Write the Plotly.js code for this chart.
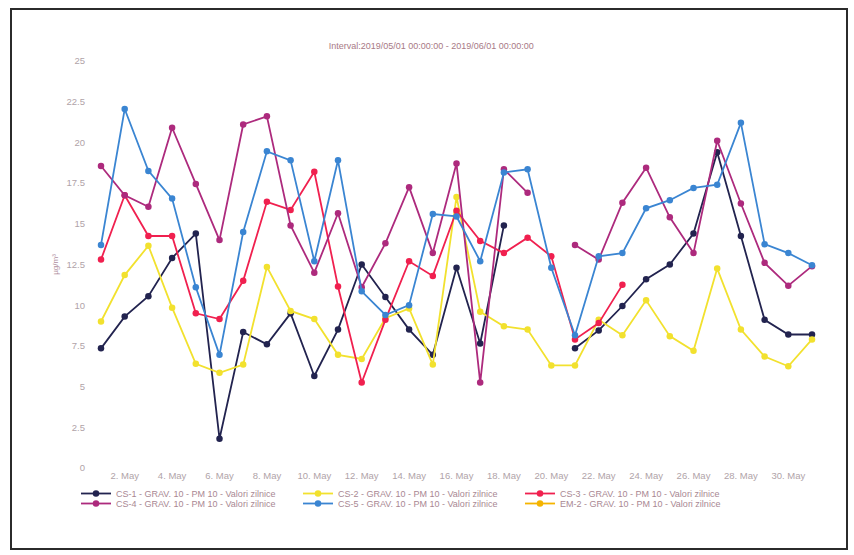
<!DOCTYPE html>
<html>
<head>
<meta charset="utf-8">
<script src="https://cdn.plot.ly/plotly-3.0.1.min.js"></script>
<style>
  html, body { margin: 0; padding: 0; background: #ffffff; }
  #chart { width: 854px; height: 555px; }
</style>
</head>
<body>
<div id="chart"></div>
<script>
// Days of May 2019
const days = [1,2,3,4,5,6,7,8,9,10,11,12,13,14,15,16,17,18,19,20,21,22,23,24,25,26,27,28,29,30,31];

const cs1 = [7.35, 9.3, 10.55, 12.9, 14.4, 1.8, 8.35, 7.6, 9.5, 5.65, 8.5, 12.5, 10.5, 8.5, 6.95, 12.3, 7.65, 14.9, null, null, 7.35, 8.45, 9.95, 11.6, 12.5, 14.4, 19.4, 14.25, 9.1, 8.2, 8.2];
const cs2 = [9.0, 11.85, 13.65, 9.85, 6.4, 5.85, 6.35, 12.35, 9.65, 9.15, 6.95, 6.7, 9.2, 9.8, 6.35, 16.65, 9.6, 8.7, 8.5, 6.3, 6.3, 9.1, 8.15, 10.3, 8.1, 7.2, 12.25, 8.5, 6.85, 6.25, 7.9];
const cs3 = [12.8, 16.75, 14.25, 14.25, 9.5, 9.15, 11.5, 16.35, 15.85, 18.2, 11.15, 5.25, 9.1, 12.7, 11.8, 15.8, 13.95, 13.2, 14.15, 13.0, 7.9, 8.9, 11.25, null, null, null, null, null, null, null, null];
const cs4 = [18.55, 16.75, 16.05, 20.9, 17.45, 14.0, 21.1, 21.6, 14.9, 12.0, 15.65, 11.1, 13.8, 17.25, 13.2, 18.7, 5.25, 18.35, 16.9, null, 13.7, 12.8, 16.3, 18.45, 15.4, 13.2, 20.1, 16.25, 12.6, 11.2, 12.4];
const cs5 = [13.7, 22.05, 18.25, 16.55, 11.1, 6.95, 14.5, 19.45, 18.9, 12.7, 18.9, 10.85, 9.4, 10.0, 15.6, 15.45, 12.7, 18.15, 18.35, 12.3, 8.15, 13.0, 13.2, 15.95, 16.45, 17.2, 17.4, 21.2, 13.75, 13.2, 12.45];
const em2 = [null, null, null, null, null, null, null, null, null, null, null, null, null, null, null, null, null, null, null, null, null, null, null, null, null, null, null, null, null, null, null];

const seriesNames = [
  "CS-1 - GRAV. 10 - PM 10 - Valori zilnice",
  "CS-2 - GRAV. 10 - PM 10 - Valori zilnice",
  "CS-3 - GRAV. 10 - PM 10 - Valori zilnice",
  "CS-4 - GRAV. 10 - PM 10 - Valori zilnice",
  "CS-5 - GRAV. 10 - PM 10 - Valori zilnice",
  "EM-2 - GRAV. 10 - PM 10 - Valori zilnice"
];
const seriesColors = ["#22234f", "#f2e12e", "#f0204f", "#ad2a7d", "#3a85d2", "#f5b400"];
const seriesData = [cs1, cs2, cs3, cs4, cs5, em2];
const legendOf = ["legend", "legend", "legend", "legend2", "legend2", "legend2"];

const titleText = "Interval:2019/05/01 00:00:00 - 2019/06/01 00:00:00";
const yTitle = "µg/m³";

const xDates = days.map(d => "2019-05-" + String(d).padStart(2, "0"));

const traces = seriesData.map((ys, i) => ({
  type: "scatter",
  mode: "lines+markers",
  name: seriesNames[i],
  x: xDates,
  y: ys,
  legend: legendOf[i],
  line: { color: seriesColors[i], width: 1.8 },
  marker: { color: seriesColors[i], size: 6.5, symbol: "circle" },
  connectgaps: false,
  hoverinfo: "x+y+name"
}));

const font = "Liberation Sans, Arial, sans-serif";
const legendFont = { family: font, size: 9, color: "#a98893" };

const legendBase = {
  orientation: "h",
  xref: "container", x: 76 / 854, xanchor: "left",
  yref: "container", yanchor: "top",
  entrywidth: 177, entrywidthmode: "pixels",
  itemwidth: 30,
  font: legendFont,
  bgcolor: "rgba(0,0,0,0)"
};

const layout = {
  width: 854,
  height: 555,
  paper_bgcolor: "#ffffff",
  plot_bgcolor: "#ffffff",
  margin: { l: 90, r: 30, t: 61, b: 87 },
  showlegend: true,
  title: {
    text: titleText,
    font: { family: font, size: 9, color: "#a87a86" },
    xref: "container", x: 0.505, xanchor: "center",
    yref: "container", y: 1 - 46 / 555, yanchor: "middle"
  },
  xaxis: {
    type: "date",
    range: ["2019-04-30 12:52", "2019-05-31 12:09"],
    tick0: "2019-05-02",
    dtick: 2 * 86400000,
    tickformat: "%-d. %b",
    showgrid: false,
    zeroline: false,
    showline: false,
    ticks: "",
    tickfont: { family: font, size: 9.5, color: "#b0a3a8" }
  },
  yaxis: {
    range: [0, 25],
    tick0: 0,
    dtick: 2.5,
    showgrid: false,
    zeroline: false,
    showline: false,
    ticks: "",
    ticklabelstandoff: 4,
    tickfont: { family: font, size: 9.5, color: "#b0a3a8" },
    title: { text: yTitle, font: { family: font, size: 8, color: "#b08ea0" }, standoff: 6 }
  },
  legend: Object.assign({}, legendBase, { y: 1 - 479 / 555 }),
  legend2: Object.assign({}, legendBase, { y: 1 - 489 / 555 }),
  shapes: [{
    type: "rect",
    xref: "paper", yref: "paper",
    x0: (11 - 90) / 734, x1: (847 - 90) / 734,
    y0: (468 - 549) / 407, y1: (468 - 9) / 407,
    line: { color: "#2b2b2b", width: 2 },
    fillcolor: "rgba(0,0,0,0)",
    layer: "above"
  }]
};

Plotly.newPlot("chart", traces, layout, { displayModeBar: false, staticPlot: true });
</script>
</body>
</html>
